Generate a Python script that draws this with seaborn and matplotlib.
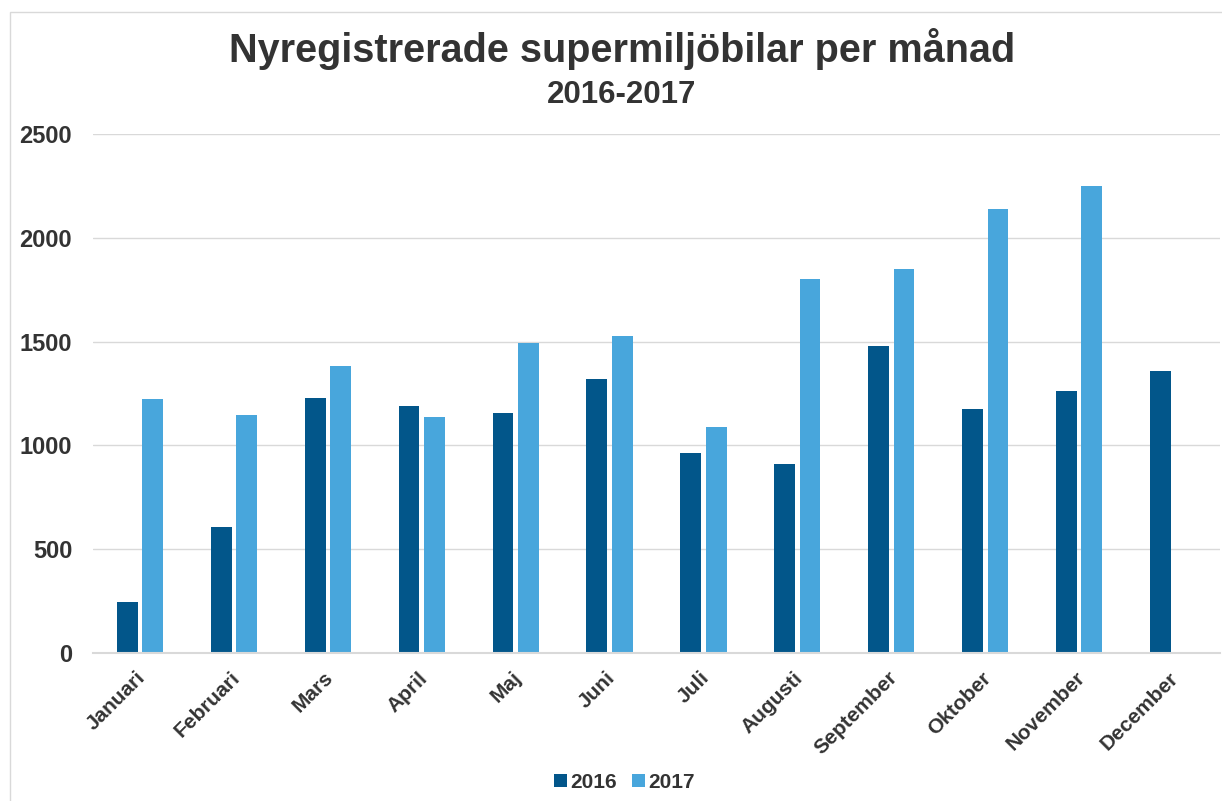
import pandas as pd
import matplotlib
matplotlib.use("Agg")
import matplotlib.pyplot as plt
import matplotlib.transforms as mtransforms
import seaborn as sns
from matplotlib.patches import Rectangle

# data
months = ["Januari", "Februari", "Mars", "April", "Maj", "Juni", "Juli",
          "Augusti", "September", "Oktober", "November", "December"]
values_2016 = [245, 607, 1228, 1190, 1156, 1320, 963, 910, 1479, 1175, 1260, 1357]
values_2017 = [1223, 1146, 1382, 1137, 1493, 1527, 1089, 1801, 1850, 2138, 2248, None]
years = ["2016", "2017"]
colors = ["#02568A", "#48A6DC"]
text_color = "#333333"

df = pd.DataFrame({
    "month": months * 2,
    "year": [years[0]] * len(months) + [years[1]] * len(months),
    "count": values_2016 + values_2017,
})

sns.set_theme(style="white")
plt.rcParams["font.family"] = ["Liberation Sans", "DejaVu Sans"]
plt.rcParams["font.weight"] = "bold"

fig = plt.figure(figsize=(12.22, 8.01), dpi=100)
ax = fig.add_axes([0.0761, 0.1848, 0.9223, 0.6479])

sns.barplot(data=df, x="month", y="count", hue="year", order=months,
            hue_order=years, palette=colors, width=0.54, gap=0.18,
            saturation=1, ax=ax, edgecolor="none")

ax.set_ylim(0, 2500)
ax.set_yticks(range(0, 2501, 500))
ax.set_xlabel("")
ax.set_ylabel("")
ax.grid(axis="y", color="#d9d9d9", linewidth=1)
ax.set_axisbelow(True)
for side in ["top", "right", "left"]:
    ax.spines[side].set_visible(False)
ax.spines["bottom"].set_color("#d9d9d9")
ax.spines["bottom"].set_linewidth(1.5)

ax.tick_params(axis="both", length=0, labelcolor=text_color)
ax.tick_params(axis="y", labelsize=17, pad=15)
ax.tick_params(axis="x", labelsize=15, pad=11)
shift = mtransforms.ScaledTranslation(-4 / 100, 0, fig.dpi_scale_trans)
for lab in ax.get_xticklabels():
    lab.set_rotation(45)
    lab.set_ha("right")
    lab.set_va("top")
    lab.set_rotation_mode("anchor")
    lab.set_fontweight("bold")
    lab.set_transform(lab.get_transform() + shift)
for lab in ax.get_yticklabels():
    lab.set_fontweight("bold")

handles, labels = ax.get_legend_handles_labels()
ax.legend(handles, labels, loc="center", bbox_to_anchor=(0.511, 0.0237),
          bbox_transform=fig.transFigure, ncol=2, frameon=False,
          handlelength=0.6, handleheight=0.6, handletextpad=0.15,
          columnspacing=0.75, prop={"size": 15, "weight": "bold"},
          labelcolor=text_color)

fig.text(0.509, 0.9226, "Nyregistrerade supermiljöbilar per månad", ha="center",
         va="baseline", fontsize=28.5, fontweight="bold", color=text_color)
fig.text(0.509, 0.8714, "2016-2017", ha="center", va="baseline", fontsize=22.5,
         fontweight="bold", color=text_color)

# light frame round the chart area
fig.patches.append(Rectangle((10 / 1222, -0.01), 1.0, 1 - 12 / 801 + 0.01,
                             transform=fig.transFigure, fill=False,
                             edgecolor="#d9d9d9", linewidth=1))

fig.savefig("out.png", dpi=100, facecolor="white")
